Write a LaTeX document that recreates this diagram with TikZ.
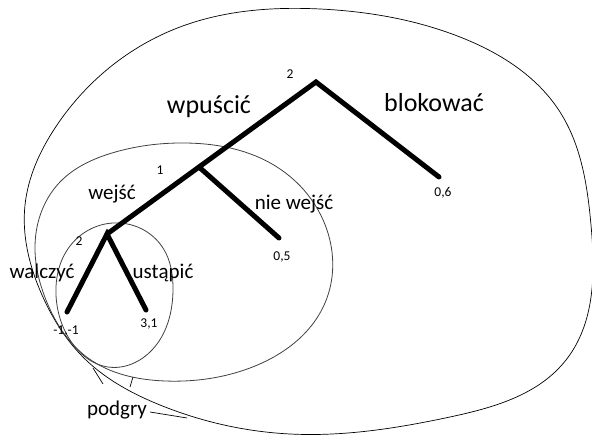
\documentclass[tikz,border=0pt]{standalone}
\usepackage{fontspec}
\setmainfont{Carlito}
\usetikzlibrary{hobby}
\begin{document}
\begin{tikzpicture}[x=1pt,y=-1pt,
  branch/.style={line width=5pt,line cap=round,line join=miter},
  region/.style={line width=0.8pt,black!75},
  outer/.style={line width=0.7pt,black},
  bigmove/.style={font=\fontsize{26}{30}\selectfont,anchor=base,inner sep=0pt},
  move/.style={font=\fontsize{21}{25}\selectfont,anchor=base,inner sep=0pt},
  payoff/.style={font=\fontsize{13.5}{16}\selectfont,inner sep=0pt},
  leader/.style={line width=0.7pt,black}]
\useasboundingbox (0,0) rectangle (592,435);

% subgame boundaries
\draw[outer,use Hobby shortcut,closed=true]
  (320,9) .. (460,37) .. (560,112) .. (591,225) .. (566,360) .. (450,417)
  .. (290,434) .. (160,405) .. (86,360) .. (42,295) .. (25,205) .. (55,128)
  .. (180,27);
\draw[region,use Hobby shortcut,closed=true]
  (185,143) .. (277,167) .. (327,230) .. (325,303) .. (250,368) .. (165,381)
  .. (88,358) .. (46,300) .. (35,250) .. (60,182) .. (112,153);
\draw[region,use Hobby shortcut,closed=true]
  (113,223) .. (163,248) .. (173,290) .. (152,350) .. (108,367) .. (70,340)
  .. (56,295) .. (70,246);

% game tree
\coordinate (r) at (316,82);
\coordinate (n1) at (199,167);
\coordinate (n2) at (107,234);
\coordinate (lb) at (439,177);
\coordinate (l5) at (279,238);
\coordinate (lw) at (67,312);
\coordinate (lu) at (146,310);
\draw[branch] (lb) -- (r) -- (n1) -- (n2);
\draw[branch] (n1) -- (l5);
\draw[branch] (lw) -- (n2) -- (lu);

% players and payoffs
\node[payoff] (p0) at (290,74) {2};
\node[payoff] (p1) at (160,170) {1};
\node[payoff] (p2) at (79,241) {2};
\node[payoff] (v6) at (443,193) {0,6};
\node[payoff] (v5) at (282,257) {0,5};
\node[payoff] (vw) at (66,331) {-1,-1};
\node[payoff] (vu) at (149,324) {3,1};

% moves
\node[bigmove] (m1) at (209,114) {wpuścić};
\node[bigmove] (m2) at (434,112) {blokować};
\node[move] (m3) at (112,200) {wejść};
\node[move] (m4) at (294,210) {nie wejść};
\node[move] (m5) at (42,279) {walczyć};
\node[move] (m6) at (163,279) {ustąpić};

% subgame label with leaders
\node[move] (sg) at (117,416) {podgry};
\coordinate (a1) at (93,368);
\coordinate (a2) at (103,384);
\coordinate (b1) at (133,377);
\coordinate (b2) at (130,387);
\coordinate (c1) at (150,412);
\coordinate (c2) at (187,418);
\draw[leader] (a1) -- (a2);
\draw[leader] (b1) -- (b2);
\draw[leader] (c1) -- (c2);
\end{tikzpicture}
\end{document}
